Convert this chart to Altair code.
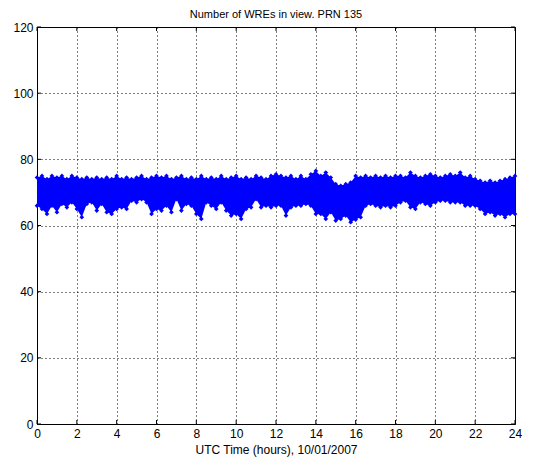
import altair as alt
import pandas as pd

# UTC time in hours (samples every quarter hour)
hours = [0, 0.25, 0.5, 0.75, 1, 1.25, 1.5, 1.75, 2, 2.25, 2.5, 2.75, 3, 3.25, 3.5, 3.75,
         4, 4.25, 4.5, 4.75, 5, 5.25, 5.5, 5.75, 6, 6.25, 6.5, 6.75, 7, 7.25, 7.5, 7.75,
         8, 8.25, 8.5, 8.75, 9, 9.25, 9.5, 9.75, 10, 10.25, 10.5, 10.75, 11, 11.25, 11.5, 11.75,
         12, 12.25, 12.5, 12.75, 13, 13.25, 13.5, 13.75, 14, 14.25, 14.5, 14.75, 15, 15.25, 15.5, 15.75,
         16, 16.25, 16.5, 16.75, 17, 17.25, 17.5, 17.75, 18, 18.25, 18.5, 18.75, 19, 19.25, 19.5, 19.75,
         20, 20.25, 20.5, 20.75, 21, 21.25, 21.5, 21.75, 22, 22.25, 22.5, 22.75, 23, 23.25, 23.5, 23.75, 24]

# Upper envelope of the number of WREs in view
wre_high = [74.5, 75, 74, 75, 74.5, 75, 74, 75, 74.5, 74, 74.5, 74, 74.5, 74, 74.5, 74, 75, 74, 74.5, 74, 74.5, 75, 74, 74.5, 75,
            74.5, 75, 74, 74.5, 75, 74, 74.5, 74, 75, 74, 74.5, 74, 75, 74, 74.5, 75, 74, 74.5, 74, 75, 74.5, 74, 75, 75.5,
            75, 74.5, 75, 74, 75, 74, 75.5, 76.5, 75, 76, 74.5, 72.5, 72, 72.5, 73, 75, 74.5, 75, 74.5, 75, 74.5, 75, 74.5, 75,
            75, 74.5, 76, 75, 74.5, 75, 75.5, 75, 74.5, 75, 75.5, 75, 76, 74.5, 75, 74, 73.5, 73, 73.5, 73, 73.5, 74, 74.5, 75]

# Lower envelope of the number of WREs in view
wre_low = [66, 65, 63.5, 66, 64, 66.5, 65.5, 67, 65, 62.5, 66.5, 67, 64.5, 66.5, 64, 63.5, 65, 65.5, 65, 67.5, 67, 68, 67, 63.5, 65,
           64.5, 66, 64, 68, 64.5, 66.5, 66, 63.5, 62, 67, 66, 65, 67, 64.5, 63, 63.5, 62, 65, 65.5, 68, 65.5, 66, 65.5, 66,
           66, 63, 65.5, 66, 66, 66.5, 66, 63.5, 63.5, 62, 64, 61.5, 62, 63, 61, 61.8, 62.5, 66, 66.5, 66, 65.5, 66, 65.5, 66,
           67, 67.5, 65.5, 65, 67, 66.5, 66, 67, 67.5, 67.5, 67, 67, 67, 66, 66, 66, 65, 63.5, 64, 63, 63.5, 62.5, 63.5, 63.5]

x_ticks = [0, 2, 4, 6, 8, 10, 12, 14, 16, 18, 20, 22, 24]
y_ticks = [0, 20, 40, 60, 80, 100, 120]

df = pd.DataFrame({"t": hours, "lo": wre_low, "hi": wre_high})
xt = pd.DataFrame({"v": x_ticks})
yt = pd.DataFrame({"v": y_ticks})

BLUE = "#0000FF"
xs = alt.Scale(domain=[0, 24], nice=False, zero=False)
ys = alt.Scale(domain=[0, 120], nice=False)

x_axis = alt.Axis(values=x_ticks, format="d", title="UTC Time (hours), 10/01/2007",
                  labelOverlap=False, labelFlush=False)
y_axis = alt.Axis(values=y_ticks, format="d", title=None, labelOverlap=False, labelFlush=False)

band = alt.Chart(df).mark_area(color=BLUE, opacity=1).encode(
    x=alt.X("t:Q", scale=xs, axis=x_axis),
    y=alt.Y("lo:Q", scale=ys, axis=y_axis),
    y2="hi:Q",
)
pts_hi = alt.Chart(df).mark_point(shape="diamond", filled=True, color=BLUE, size=22, opacity=1).encode(
    x=alt.X("t:Q", scale=xs, axis=x_axis), y=alt.Y("hi:Q", scale=ys, axis=y_axis)
)
pts_lo = alt.Chart(df).mark_point(shape="diamond", filled=True, color=BLUE, size=22, opacity=1).encode(
    x=alt.X("t:Q", scale=xs, axis=x_axis), y=alt.Y("lo:Q", scale=ys, axis=y_axis)
)

tick_col = "#000000"
xt_bot = alt.Chart(xt).mark_rule(color=tick_col).encode(
    x=alt.X("v:Q", scale=xs, axis=x_axis), y=alt.value(397), y2=alt.value(393))
xt_top = alt.Chart(xt).mark_rule(color=tick_col).encode(
    x=alt.X("v:Q", scale=xs, axis=x_axis), y=alt.value(0), y2=alt.value(4))
yt_left = alt.Chart(yt).mark_rule(color=tick_col).encode(
    y=alt.Y("v:Q", scale=ys, axis=y_axis), x=alt.value(0), x2=alt.value(4))
yt_right = alt.Chart(yt).mark_rule(color=tick_col).encode(
    y=alt.Y("v:Q", scale=ys, axis=y_axis), x=alt.value(478), x2=alt.value(474))

chart = alt.layer(band, pts_hi, pts_lo, xt_bot, xt_top, yt_left, yt_right).properties(
    width=478,
    height=397,
    title=alt.TitleParams("Number of WREs in view. PRN 135", fontSize=11, fontWeight="normal",
                          font="Liberation Sans", color="#000000", offset=1),
    autosize=alt.AutoSizeParams(type="none"),
    padding={"left": 29, "top": 19, "right": 25, "bottom": 36},
).configure_view(
    stroke="#000000", strokeWidth=1
).configure_axis(
    grid=True, gridColor="#000000", gridDash=[1, 3], gridOpacity=1, gridWidth=1,
    domain=False, ticks=False,
    labelFont="Liberation Sans", labelFontSize=12, labelColor="#000000",
    titleFont="Liberation Sans", titleFontSize=12, titleFontWeight="normal", titleColor="#000000",
).configure_axisX(labelPadding=4, titlePadding=5).configure_axisY(labelPadding=4)

chart.save("out.html", embed_options={"renderer": "svg", "actions": False})
